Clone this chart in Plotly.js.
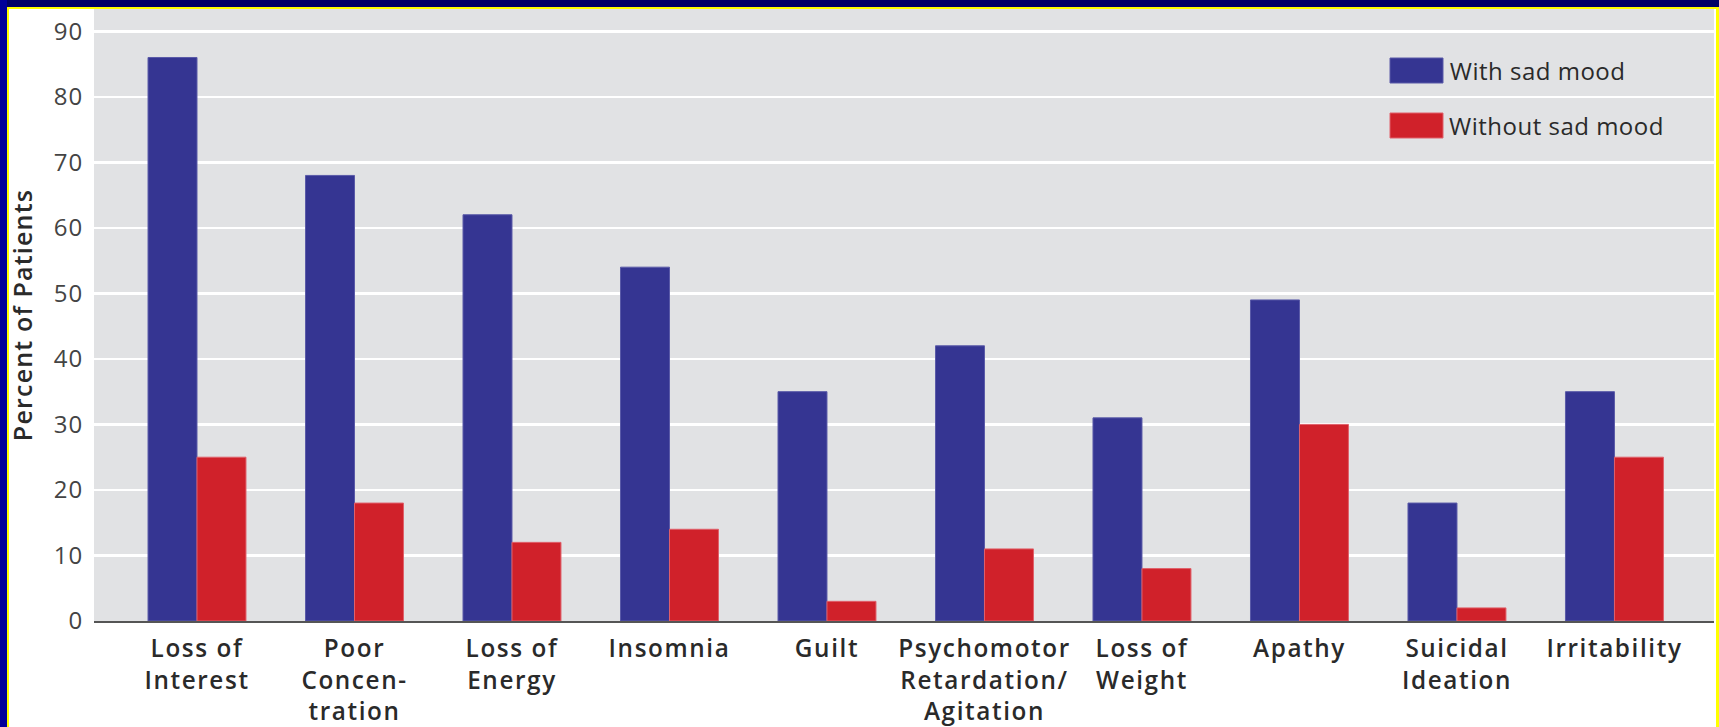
<!DOCTYPE html>
<html>
<head>
<meta charset="utf-8">
<script src="https://cdn.plot.ly/plotly-3.0.1.min.js"></script>
<style>
  html, body { margin: 0; padding: 0; background: #ffffff; }
  #chart { width: 1719px; height: 727px; position: absolute; left: 0; top: 0; }
  .b { position: absolute; pointer-events: none; }
  #chart .xtick text { letter-spacing: 1.6px; }
  #chart .ytick text { letter-spacing: 1px; }
  #chart .ytitle { letter-spacing: 1.2px; }
  #chart .annotation-text { letter-spacing: 0.5px; }
</style>
</head>
<body>
<div id="chart"></div>
<div class="b" style="left:0;top:0;width:1719px;height:7px;background:#000066;"></div>
<div class="b" style="left:0;top:7px;width:1719px;height:2px;background:#ffff00;"></div>
<div class="b" style="left:0;top:0;width:7px;height:727px;background:#000099;"></div>
<div class="b" style="left:7px;top:7px;width:2px;height:720px;background:#ffff00;"></div>
<div class="b" style="left:1716px;top:7px;width:3px;height:720px;background:#ffff00;"></div>
<script>
const categories = [
  "Loss of<br>Interest",
  "Poor<br>Concen-<br>tration",
  "Loss of<br>Energy",
  "Insomnia",
  "Guilt",
  "Psychomotor<br>Retardation/<br>Agitation",
  "Loss of<br>Weight",
  "Apathy",
  "Suicidal<br>Ideation",
  "Irritability"
];
const withSadMood = [86, 68, 62, 54, 35, 42, 31, 49, 18, 35];
const withoutSadMood = [25, 18, 12, 14, 3, 11, 8, 30, 2, 25];
const yTicks = [0, 10, 20, 30, 40, 50, 60, 70, 80, 90];
const seriesNames = ["With sad mood", "Without sad mood"];
const blue = "#353592";
const red = "#d0212a";

const traces = [
  {
    type: "bar", name: seriesNames[0], x: categories, y: withSadMood,
    marker: { color: blue, line: { color: "#5a5aa8", width: 1 } },
    showlegend: false, hoverinfo: "y"
  },
  {
    type: "bar", name: seriesNames[1], x: categories, y: withoutSadMood,
    marker: { color: red, line: { color: "#e0606a", width: 1 } },
    showlegend: false, hoverinfo: "y"
  }
];

const W = 1620, H = 612;
const px = v => (v - 94) / W;
const py = v => (621 - v) / H;

const layout = {
  width: 1719, height: 727,
  margin: { l: 94, r: 5, t: 9, b: 106 },
  paper_bgcolor: "#ffffff",
  plot_bgcolor: "#e1e2e4",
  barmode: "group",
  bargap: 0.378,
  bargroupgap: 0,
  font: { family: "Open Sans, sans-serif", color: "#333" },
  xaxis: {
    type: "category",
    range: [-0.654, 9.632],
    showgrid: false,
    showline: true, linecolor: "#555", linewidth: 2,
    ticks: "outside", ticklen: 5, tickcolor: "rgba(0,0,0,0)",
    tickfont: { family: "Open Sans, sans-serif", size: 24.3, color: "#2a2a2a", weight: 600 },
    tickangle: 0,
    automargin: false
  },
  yaxis: {
    range: [0, 93.4],
    tickvals: yTicks,
    ticktext: yTicks.map(String),
    showgrid: true, gridcolor: "#ffffff", gridwidth: 2.5,
    zeroline: false, showline: false,
    ticks: "outside", ticklen: 5, tickcolor: "rgba(0,0,0,0)",
    tickfont: { family: "Open Sans, sans-serif", size: 24, color: "#444" },
    title: { text: "Percent of Patients", standoff: 15,
      font: { family: "Open Sans, sans-serif", size: 25, color: "#2a2a2a", weight: 600 } },
    automargin: false
  },
  shapes: [
    { type: "rect", xref: "paper", yref: "paper", x0: px(1390), x1: px(1443), y0: py(83), y1: py(58),
      fillcolor: blue, line: { color: "#5a5aa8", width: 1 } },
    { type: "rect", xref: "paper", yref: "paper", x0: px(1390), x1: px(1443), y0: py(138), y1: py(113),
      fillcolor: red, line: { color: "#e0606a", width: 1 } }
  ],
  annotations: [
    { xref: "paper", yref: "paper", x: px(1451), y: py(70.5), xanchor: "left", yanchor: "middle",
      text: seriesNames[0], showarrow: false, font: { family: "Open Sans, sans-serif", size: 24, color: "#2a2a2a" } },
    { xref: "paper", yref: "paper", x: px(1451), y: py(125.5), xanchor: "left", yanchor: "middle",
      text: seriesNames[1], showarrow: false, font: { family: "Open Sans, sans-serif", size: 24, color: "#2a2a2a" } }
  ]
};

Plotly.newPlot("chart", traces, layout, { displayModeBar: false, staticPlot: true });
</script>
</body>
</html>
